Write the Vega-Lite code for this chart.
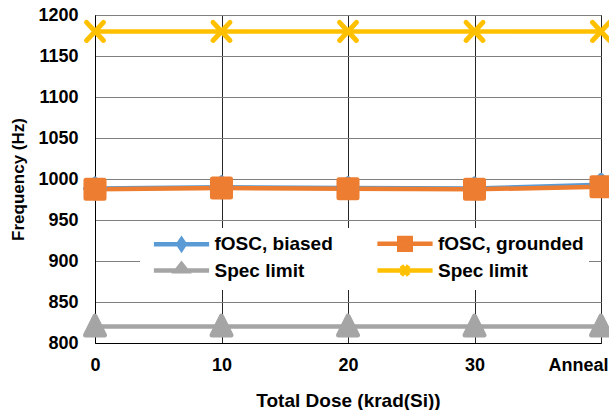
{
  "$schema": "https://vega.github.io/schema/vega-lite/v6.json",
  "width": 506,
  "height": 328,
  "autosize": "none",
  "padding": {"left": 95, "top": 15, "right": 8, "bottom": 67},
  "background": "white",
  "config": {
    "font": "Liberation Sans",
    "view": {"stroke": "#000000", "strokeWidth": 1},
    "axis": {
      "labelFont": "Liberation Sans",
      "labelFontWeight": "bold",
      "labelColor": "#000000",
      "titleFont": "Liberation Sans",
      "titleFontWeight": "bold",
      "titleColor": "#000000",
      "domainColor": "#000000",
      "domainWidth": 1,
      "ticks": false,
      "tickSize": 0,
      "gridWidth": 1
    }
  },
  "data": {
    "values": [
      {"dose": "0", "series": "fOSC, biased", "freq": 988.5},
      {"dose": "10", "series": "fOSC, biased", "freq": 990},
      {"dose": "20", "series": "fOSC, biased", "freq": 989},
      {"dose": "30", "series": "fOSC, biased", "freq": 988.5},
      {"dose": "Anneal", "series": "fOSC, biased", "freq": 993},
      {"dose": "0", "series": "fOSC, grounded", "freq": 987.4},
      {"dose": "10", "series": "fOSC, grounded", "freq": 989},
      {"dose": "20", "series": "fOSC, grounded", "freq": 988.2},
      {"dose": "30", "series": "fOSC, grounded", "freq": 987.4},
      {"dose": "Anneal", "series": "fOSC, grounded", "freq": 990.6},
      {"dose": "0", "series": "Spec limit (min)", "freq": 820},
      {"dose": "10", "series": "Spec limit (min)", "freq": 820},
      {"dose": "20", "series": "Spec limit (min)", "freq": 820},
      {"dose": "30", "series": "Spec limit (min)", "freq": 820},
      {"dose": "Anneal", "series": "Spec limit (min)", "freq": 820},
      {"dose": "0", "series": "Spec limit (max)", "freq": 1180},
      {"dose": "10", "series": "Spec limit (max)", "freq": 1180},
      {"dose": "20", "series": "Spec limit (max)", "freq": 1180},
      {"dose": "30", "series": "Spec limit (max)", "freq": 1180},
      {"dose": "Anneal", "series": "Spec limit (max)", "freq": 1180}
    ]
  },
  "encoding": {
    "x": {
      "field": "dose",
      "type": "ordinal",
      "sort": null,
      "scale": {"type": "point", "padding": 0, "domain": ["0", "10", "20", "30", "Anneal"]},
      "axis": {
        "title": "Total Dose (krad(Si))",
        "titleFontSize": 19,
        "titlePadding": 17,
        "labelFontSize": 18,
        "labelPadding": 13,
        "labelAngle": 0,
        "grid": true,
        "gridColor": "#262626",
        "labelAlign": {"condition": {"test": "datum.value === 'Anneal'", "value": "right"}, "value": "center"},
        "labelOffset": {"condition": {"test": "datum.value === 'Anneal'", "value": 7}, "value": 0}
      }
    },
    "y": {
      "field": "freq",
      "type": "quantitative",
      "scale": {"domain": [800, 1200], "nice": false, "zero": false},
      "axis": {
        "title": "Frequency (Hz)",
        "titleFontSize": 17,
        "titlePadding": 10,
        "labelFontSize": 18,
        "labelPadding": 17,
        "format": "d",
        "values": [800, 850, 900, 950, 1000, 1050, 1100, 1150, 1200],
        "grid": true,
        "gridColor": "#7f7f7f"
      }
    }
  },
  "layer": [
    {
      "mark": {"type": "point", "filled": true, "size": 256, "strokeWidth": 4.5, "strokeJoin": "round", "strokeCap": "round", "opacity": 0},
      "encoding": {
        "color": {
          "field": "series",
          "type": "nominal",
          "scale": {
            "domain": ["fOSC, biased", "fOSC, grounded", "Spec limit (min)", "Spec limit (max)"],
            "range": ["#5B9BD5", "#ED7D31", "#A5A5A5", "#FFC000"]
          },
          "legend": {
            "title": null, "orient": "none", "direction": "horizontal", "legendX": 45, "legendY": 213,
            "columns": 2, "columnPadding": 34.5, "rowPadding": -4, "padding": 5,
            "fillColor": "white", "strokeColor": null, "symbolSize": 256, "symbolStrokeWidth": 4.5, "symbolOpacity": 1,
            "symbolOffset": 26, "labelOffset": 22.5, "labelFont": "Liberation Sans", "labelFontSize": 19,
            "labelFontWeight": "bold", "labelColor": "#000000", "zindex": 1,
            "labelExpr": "indexof(datum.label, 'Spec') === 0 ? 'Spec limit' : datum.label"
          }
        },
        "stroke": {
          "field": "series",
          "type": "nominal",
          "scale": {
            "domain": ["fOSC, biased", "fOSC, grounded", "Spec limit (min)", "Spec limit (max)"],
            "range": ["#5B9BD5", "#ED7D31", "#A5A5A5", "#FFC000"]
          },
          "legend": {
            "title": null, "orient": "none", "direction": "horizontal", "legendX": 45, "legendY": 213,
            "columns": 2, "columnPadding": 34.5, "rowPadding": -4, "padding": 5,
            "fillColor": "white", "strokeColor": null, "symbolSize": 256, "symbolStrokeWidth": 4.5, "symbolOpacity": 1,
            "symbolOffset": 26, "labelOffset": 22.5, "labelFont": "Liberation Sans", "labelFontSize": 19,
            "labelFontWeight": "bold", "labelColor": "#000000", "zindex": 1,
            "labelExpr": "indexof(datum.label, 'Spec') === 0 ? 'Spec limit' : datum.label"
          }
        },
        "shape": {
          "field": "series",
          "type": "nominal",
          "scale": {
            "domain": ["fOSC, biased", "fOSC, grounded", "Spec limit (min)", "Spec limit (max)"],
            "range": [
              "M-3.45,0H3.45M0,-0.6L0.4,0L0,0.6L-0.4,0Z",
              "M-3.45,0H3.45M-0.72,-0.72H0.72V0.72H-0.72Z",
              "M-3.45,0H3.45M0,-0.8L0.7,0.1H-0.7Z",
              "M-3.45,0H3.45M-0.45,-0.6L0.45,0.6M0.45,-0.6L-0.45,0.6"
            ]
          },
          "legend": {
            "title": null, "orient": "none", "direction": "horizontal", "legendX": 45, "legendY": 213,
            "columns": 2, "columnPadding": 34.5, "rowPadding": -4, "padding": 5,
            "fillColor": "white", "strokeColor": null, "symbolSize": 256, "symbolStrokeWidth": 4.5, "symbolOpacity": 1,
            "symbolOffset": 26, "labelOffset": 22.5, "labelFont": "Liberation Sans", "labelFontSize": 19,
            "labelFontWeight": "bold", "labelColor": "#000000", "zindex": 1,
            "labelExpr": "indexof(datum.label, 'Spec') === 0 ? 'Spec limit' : datum.label"
          }
        }
      }
    },
    {
      "mark": {"type": "line", "strokeWidth": 4.5, "strokeCap": "round", "strokeJoin": "round"},
      "encoding": {
        "color": {
          "field": "series",
          "type": "nominal",
          "scale": {
            "domain": ["fOSC, biased", "fOSC, grounded", "Spec limit (min)", "Spec limit (max)"],
            "range": ["#5B9BD5", "#ED7D31", "#A5A5A5", "#FFC000"]
          }
        }
      }
    },
    {
      "transform": [{"filter": "datum.series === 'fOSC, biased'"}],
      "mark": {"type": "point", "shape": "M0,-0.86L0.86,0L0,0.86L-0.86,0Z", "filled": true, "fill": "#5B9BD5", "stroke": "#5B9BD5", "size": 484, "strokeWidth": 5, "strokeJoin": "round", "opacity": 1}
    },
    {
      "transform": [{"filter": "datum.series === 'fOSC, grounded'"}],
      "mark": {"type": "point", "shape": "M-0.82,-0.82H0.82V0.82H-0.82Z", "filled": true, "fill": "#ED7D31", "stroke": "#ED7D31", "size": 484, "strokeWidth": 5, "strokeJoin": "round", "opacity": 1}
    },
    {
      "transform": [{"filter": "datum.series === 'Spec limit (min)'"}],
      "mark": {"type": "point", "shape": "M0,-0.95L0.86,0.77H-0.86Z", "filled": true, "fill": "#A5A5A5", "stroke": "#A5A5A5", "size": 484, "strokeWidth": 5, "strokeJoin": "round", "opacity": 1}
    },
    {
      "transform": [{"filter": "datum.series === 'Spec limit (max)'"}],
      "mark": {"type": "point", "shape": "M-0.77,-0.82L0.77,0.82M0.77,-0.82L-0.77,0.82", "filled": true, "fill": "#FFC000", "stroke": "#FFC000", "size": 484, "strokeWidth": 5, "strokeJoin": "round", "strokeCap": "round", "opacity": 1}
    }
  ]
}
